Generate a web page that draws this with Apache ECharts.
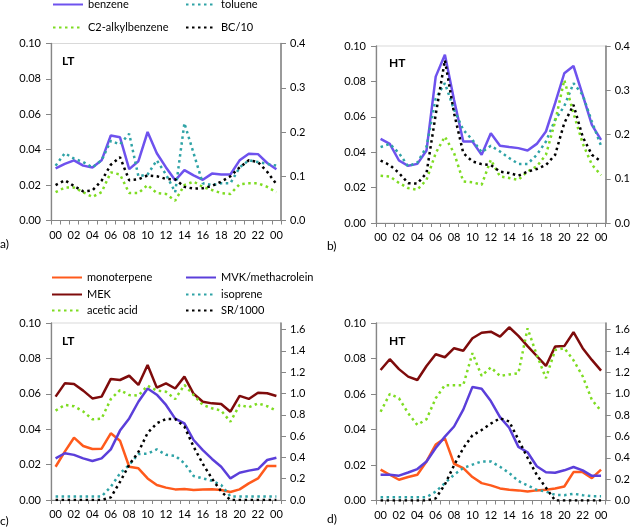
<!DOCTYPE html>
<html><head><meta charset="utf-8">
<script src="https://cdn.jsdelivr.net/npm/echarts@6/dist/echarts.min.js"></script>
<style>html,body{margin:0;padding:0;background:#fff}#c{width:633px;height:528px}</style>
</head><body><div id="c"></div>
<script>
// ---- tick labels ----
const hours = ['00','01','02','03','04','05','06','07','08','09','10','11','12','13','14','15','16','17','18','19','20','21','22','23','00'];
const leftTicks = [0, 0.02, 0.04, 0.06, 0.08, 0.10];
const rightTicksTop = [0, 0.1, 0.2, 0.3, 0.4];
const rightTicksBottom = [0, 0.2, 0.4, 0.6, 0.8, 1.0, 1.2, 1.4, 1.6];

// ---- panel a (LT) ----
const benzeneLT = [0.0295,0.032,0.034,0.031,0.030,0.034,0.048,0.047,0.029,0.0335,0.050,0.038,0.030,0.0227,0.0285,0.0255,0.023,0.0265,0.026,0.026,0.034,0.0377,0.0375,0.0325,0.029];
const tolueneLT = [0.031,0.038,0.035,0.033,0.030,0.034,0.045,0.043,0.049,0.025,0.026,0.034,0.026,0.016,0.055,0.038,0.021,0.020,0.021,0.021,0.030,0.034,0.033,0.032,0.031];
const c2LT = [0.016,0.0186,0.0186,0.016,0.0133,0.016,0.0272,0.026,0.0155,0.0155,0.020,0.0155,0.015,0.0112,0.020,0.022,0.019,0.0172,0.0155,0.015,0.0205,0.021,0.021,0.019,0.016];
const bcLT = [0.08,0.091,0.078,0.066,0.068,0.09,0.126,0.143,0.091,0.093,0.102,0.1,0.094,0.093,0.076,0.072,0.073,0.078,0.088,0.1,0.12,0.136,0.132,0.11,0.082];

// ---- panel b (HT) ----
const benzeneHT = [0.0475,0.0447,0.0353,0.0323,0.0334,0.041,0.0827,0.095,0.0695,0.046,0.046,0.0385,0.0507,0.0436,0.0429,0.0423,0.041,0.0447,0.0517,0.0677,0.0846,0.0887,0.0724,0.0554,0.047];
const tolueneHT = [0.0429,0.0447,0.0395,0.032,0.0342,0.043,0.0705,0.079,0.064,0.0526,0.047,0.040,0.0436,0.0404,0.0367,0.0334,0.0334,0.0385,0.046,0.0583,0.066,0.079,0.0724,0.0573,0.0436];
const c2HT = [0.0267,0.0263,0.0226,0.0197,0.0188,0.0244,0.0395,0.0488,0.0395,0.0235,0.023,0.0216,0.0357,0.0263,0.0254,0.0244,0.0291,0.032,0.0385,0.0573,0.0808,0.062,0.045,0.033,0.027];
const bcHT = [0.141,0.131,0.113,0.09,0.089,0.113,0.245,0.368,0.248,0.158,0.139,0.133,0.131,0.116,0.113,0.107,0.116,0.122,0.131,0.154,0.226,0.267,0.195,0.154,0.139];

// ---- panel c (LT) ----
const monoLT = [0.0188,0.0273,0.0352,0.0305,0.0288,0.029,0.0377,0.0335,0.0188,0.0179,0.0122,0.0085,0.007,0.006,0.0062,0.0057,0.006,0.0061,0.0057,0.0045,0.006,0.0094,0.0122,0.0192,0.0192];
const mvkLT = [0.0235,0.0264,0.0255,0.0235,0.022,0.0235,0.0286,0.0392,0.0461,0.0555,0.063,0.0595,0.0537,0.046,0.0433,0.0339,0.0282,0.0232,0.0188,0.0122,0.0154,0.0166,0.0175,0.0226,0.0239];
const mekLT = [0.0584,0.0659,0.0655,0.0618,0.0574,0.0584,0.0684,0.0678,0.0702,0.065,0.0763,0.0635,0.0659,0.063,0.0697,0.060,0.0555,0.0546,0.0542,0.0499,0.0588,0.0571,0.0606,0.0603,0.0588];
const isopreneLT = [0.002,0.002,0.002,0.002,0.002,0.002,0.0075,0.015,0.0198,0.026,0.0262,0.0286,0.0255,0.025,0.0207,0.0136,0.0122,0.0109,0.0085,0.002,0.002,0.002,0.002,0.002,0.002];
const aceticLT = [0.0505,0.0537,0.053,0.050,0.0456,0.046,0.057,0.0621,0.0593,0.059,0.0646,0.0618,0.0612,0.057,0.065,0.0593,0.0537,0.0518,0.0505,0.0442,0.0537,0.0524,0.0546,0.053,0.0505];
const srLT = [0,0,0,0,0,0,0.025,0.17,0.33,0.45,0.63,0.72,0.76,0.76,0.69,0.5,0.34,0.2,0.08,0,0,0,0,0,0];

// ---- panel d (HT) ----
const monoHT = [0.0174,0.0145,0.0117,0.0132,0.0145,0.022,0.0315,0.035,0.0207,0.0183,0.0132,0.0098,0.0085,0.0068,0.006,0.0057,0.0051,0.0057,0.006,0.0068,0.0079,0.016,0.016,0.0126,0.0174];
const mvkHT = [0.0145,0.0145,0.014,0.0158,0.0177,0.022,0.0296,0.036,0.0417,0.0512,0.064,0.063,0.056,0.047,0.041,0.0302,0.0272,0.0193,0.0159,0.0156,0.017,0.0189,0.017,0.0139,0.014];
const mekHT = [0.0735,0.0796,0.074,0.0698,0.0679,0.0758,0.0824,0.0807,0.0858,0.0844,0.0914,0.0945,0.0951,0.0923,0.0976,0.0927,0.087,0.0814,0.0758,0.0867,0.087,0.0948,0.0858,0.0792,0.0732];
const isopreneHT = [0.0019,0.0019,0.0019,0.0019,0.0019,0.0019,0.005,0.0098,0.0145,0.0183,0.0202,0.022,0.022,0.019,0.0155,0.011,0.0085,0.006,0.005,0.0032,0.003,0.0038,0.003,0.0024,0.0024];
const aceticHT = [0.050,0.060,0.0576,0.0492,0.0426,0.0458,0.0576,0.065,0.065,0.065,0.083,0.0702,0.075,0.0702,0.071,0.0717,0.097,0.082,0.0689,0.0848,0.0858,0.079,0.07,0.0567,0.0505];
const srHT = [0,0,0,0,0,0,0.02,0.15,0.33,0.49,0.61,0.66,0.72,0.77,0.74,0.57,0.4,0.24,0.12,0,0,0,0,0,0];

const FONT = 'Lato, "Open Sans", sans-serif';
const AX = '#868686';
const C = {
  benzene:'#6E52EE', toluene:'#2FA3A6', c2:'#7EDC22', black:'#000000',
  mono:'#FF5A1C', mvk:'#5B3FDA', mek:'#7E0B0B'
};
const DOT = [2.5, 3.5];

const grids = [
  {left:51, top:43.5, width:230, height:177},
  {left:376, top:46, width:231, height:177},
  {left:51, top:323, width:230, height:177},
  {left:376, top:323, width:231, height:177.5}
].map(g => Object.assign({show:true, borderColor:'#d9d9d9', borderWidth:1, backgroundColor:'transparent'}, g));

function xAx(gi){
  return {type:'category', gridIndex:gi, data:hours, boundaryGap:true,
    axisLine:{lineStyle:{color:AX, width:1}},
    axisTick:{show:true, interval:0, length:4, lineStyle:{color:AX}},
    axisLabel:{interval:1, color:'#000', fontSize:11, fontFamily:FONT, margin:9},
    splitLine:{show:false}};
}
function yLeft(gi){
  return {type:'value', gridIndex:gi, position:'left', min:0, max:0.1, interval:0.02,
    axisLine:{show:true, lineStyle:{color:AX, width:1.3}},
    axisTick:{show:true, length:5, lineStyle:{color:AX}},
    axisLabel:{color:'#000', fontSize:11, fontFamily:FONT, margin:10, formatter:v=>v.toFixed(2)},
    splitLine:{show:false}};
}
function yRightTop(gi){
  return {type:'value', gridIndex:gi, position:'right', min:0, max:0.4, interval:0.1,
    axisLine:{show:true, lineStyle:{color:AX, width:1.6}},
    axisTick:{show:true, length:5, lineStyle:{color:AX}},
    axisLabel:{color:'#000', fontSize:11, fontFamily:FONT, margin:9, formatter:v=>v.toFixed(1)},
    splitLine:{show:false}};
}
function yRightBottom(gi){
  return {type:'value', gridIndex:gi, position:'right', min:0, max:1.662,
    axisLine:{show:true, lineStyle:{color:AX, width:1.6}},
    axisTick:{show:true, length:5, lineStyle:{color:AX}, customValues:rightTicksBottom},
    axisLabel:{color:'#000', fontSize:11, fontFamily:FONT, margin:9, customValues:rightTicksBottom, formatter:v=>v.toFixed(1)},
    splitLine:{show:false}};
}

function line(name, data, color, xi, yi, dotted, z){
  return {type:'line', name, data, xAxisIndex:xi, yAxisIndex:yi, symbol:'none', showSymbol:false,
    smooth:false, z:z||2, animation:false,
    lineStyle:{color, width:2.5, type: dotted?DOT:'solid', cap:'butt'},
    itemStyle:{color}};
}

function lg(name, left, top){
  return {data:[name], left, top, orient:'horizontal', itemWidth:30, itemHeight:12, itemGap:0, padding:0,
    selectedMode:false, itemStyle:{opacity:0},
    textStyle:{fontSize:11, fontFamily:FONT, color:'#000'}};
}

function txt(t, x, y, bold){
  return {type:'text', left:x, top:y, style:{text:t, fill:'#000', font:(bold?'bold ':'')+'12px '+FONT}};
}

const option = {
  backgroundColor:'#fff',
  animation:false,
  grid: grids,
  xAxis: [xAx(0), xAx(1), xAx(2), xAx(3)],
  yAxis: [yLeft(0), yRightTop(0), yLeft(1), yRightTop(1), yLeft(2), yRightBottom(2), yLeft(3), yRightBottom(3)],
  legend: [
    lg('benzene', 52, -1), lg('toluene', 185, -1),
    lg('C2-alkylbenzene', 52, 22), lg('BC/10', 185, 22),
    lg('monoterpene', 51, 272), lg('MVK/methacrolein', 185, 272),
    lg('MEK', 51, 289), lg('isoprene', 185, 289),
    lg('acetic acid', 51, 305), lg('SR/1000', 185, 305)
  ],
  graphic: [
    txt('LT', 62, 55, true), txt('HT', 389, 57, true),
    txt('LT', 62, 335, true), txt('HT', 389, 335, true),
    txt('a)', 0, 238, false), txt('b)', 327, 240, false),
    txt('c)', 0, 515, false), txt('d)', 327, 513, false)
  ],
  series: [
    line('benzene', benzeneLT, C.benzene, 0, 0, false),
    line('toluene', tolueneLT, C.toluene, 0, 0, true),
    line('C2-alkylbenzene', c2LT, C.c2, 0, 0, true),
    line('BC/10', bcLT, C.black, 0, 1, true),

    line('benzene', benzeneHT, C.benzene, 1, 2, false),
    line('toluene', tolueneHT, C.toluene, 1, 2, true),
    line('C2-alkylbenzene', c2HT, C.c2, 1, 2, true),
    line('BC/10', bcHT, C.black, 1, 3, true),

    line('monoterpene', monoLT, C.mono, 2, 4, false),
    line('MVK/methacrolein', mvkLT, C.mvk, 2, 4, false),
    line('MEK', mekLT, C.mek, 2, 4, false),
    line('isoprene', isopreneLT, C.toluene, 2, 4, true),
    line('acetic acid', aceticLT, C.c2, 2, 4, true),
    line('SR/1000', srLT, C.black, 2, 5, true),

    line('monoterpene', monoHT, C.mono, 3, 6, false),
    line('MVK/methacrolein', mvkHT, C.mvk, 3, 6, false),
    line('MEK', mekHT, C.mek, 3, 6, false),
    line('isoprene', isopreneHT, C.toluene, 3, 6, true),
    line('acetic acid', aceticHT, C.c2, 3, 6, true),
    line('SR/1000', srHT, C.black, 3, 7, true)
  ]
};

const chart = echarts.init(document.getElementById('c'), null, {renderer:'canvas', width:633, height:528});
chart.setOption(option);
</script>
</body></html>
